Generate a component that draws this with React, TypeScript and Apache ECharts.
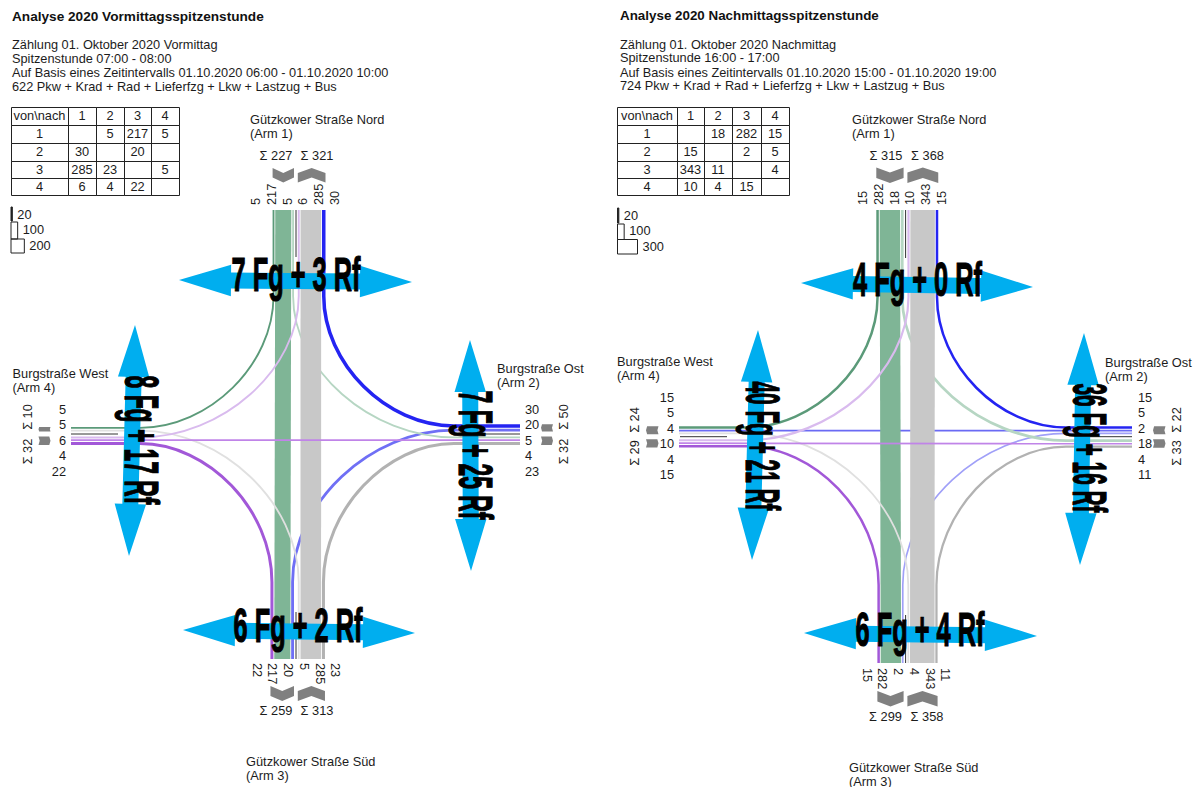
import React, { useEffect, useRef } from "react";
import * as echarts from "echarts";

const W = 1199;
const H = 787;
const FONT = '"Liberation Sans"';

const armNames = [
  ["Gützkower Straße Nord", "(Arm 1)"],
  ["Burgstraße Ost", "(Arm 2)"],
  ["Gützkower Straße Süd", "(Arm 3)"],
  ["Burgstraße West", "(Arm 4)"],
];
const tableHeader = ["von\\nach", "1", "2", "3", "4"];
const amMatrix = [
  [null, 5, 217, 5],
  [30, null, 20, null],
  [285, 23, null, 5],
  [6, 4, 22, null],
];
const pmMatrix = [
  [null, 18, 282, 15],
  [15, null, 2, 5],
  [343, 11, null, 4],
  [10, 4, 15, null],
];
const amLegend = [20, 100, 200];
const pmLegend = [20, 100, 300];
const amSums = [[227, 321], [50, 32], [259, 313], [10, 32]];
const pmSums = [[315, 368], [22, 33], [299, 358], [24, 29]];
const amStations = ["7 Fg + 3 Rf", "7 Fg + 25 Rf", "6 Fg + 2 Rf", "8 Fg + 17 Rf"];
const pmStations = ["4 Fg + 0 Rf", "36 Fg + 16 Rf", "6 Fg + 4 Rf", "40 Fg + 21 Rf"];
const amHeader = [
  "Analyse 2020 Vormittagsspitzenstunde",
  "Zählung 01. Oktober 2020 Vormittag",
  "Spitzenstunde 07:00 - 08:00",
  "Auf Basis eines Zeitintervalls 01.10.2020 06:00 - 01.10.2020 10:00",
  "622 Pkw + Krad + Rad + Lieferfzg + Lkw + Lastzug + Bus",
];
const pmHeader = [
  "Analyse 2020 Nachmittagsspitzenstunde",
  "Zählung 01. Oktober 2020 Nachmittag",
  "Spitzenstunde 16:00 - 17:00",
  "Auf Basis eines Zeitintervalls 01.10.2020 15:00 - 01.10.2020 19:00",
  "724 Pkw + Krad + Rad + Lieferfzg + Lkw + Lastzug + Bus",
];

// Lane order per arm (1-based arm pairs), first group left/top of the arm axis.
const laneOrder: number[][][][] = [
  [[[1, 4], [1, 3], [1, 2]], [[4, 1], [3, 1], [2, 1]]],
  [[[2, 1], [2, 4], [2, 3]], [[1, 2], [4, 2], [3, 2]]],
  [[[4, 3], [1, 3], [2, 3]], [[3, 4], [3, 1], [3, 2]]],
  [[[1, 4], [2, 4], [3, 4]], [[4, 1], [4, 2], [4, 3]]],
];
const drawOrder = [[2, 1], [2, 3], [2, 4], [1, 2], [1, 3], [1, 4], [3, 1], [3, 2], [3, 4], [4, 1], [4, 2], [4, 3]];

const flowColor: Record<string, string> = {
  "1-2": "#b6d6c3", "1-3": "#7fb596", "1-4": "#5b9a79",
  "2-1": "#2424f2", "2-3": "#6f6ff5", "2-4": "#6a6af4",
  "3-1": "#c8c8c8", "3-2": "#b2b2b2", "3-4": "#e0e0e0",
  "4-1": "#d9bbee", "4-2": "#c084e8", "4-3": "#a258d8",
};
const pmColor: Record<string, string> = { "2-3": "#a0a0f8" };

type Layout = any;
const layouts: Layout[] = [
  {
    matrix: amMatrix, legend: amLegend, sums: amSums, stations: amStations, header: amHeader, colors: {},
    axisX: 296, axisY: 434, top: 210, bottom: 659, west: 71, east: 520, boxT: 296, boxB: 582, boxL: 140, boxR: 454,
    headX: 12, titleY: 17, lineY: [44.5, 58, 72, 86],
    tableCols: [11, 68, 96, 124, 151, 179],
    legendX: 11, legendY: [207, 222, 239, 253], legendText: [214, 229, 245],
    chevTop: [168, 182.5], chevBottom: [686, 701], chevWest: [38.5, 50.5], chevEast: [541, 553],
    topLabels: -1, bottomLabels: 0.5, labelTopY: 205, labelBottomY: 663, westLabelX: 66, eastLabelX: 525, sideLabelY: 440,
    sumTopY: 155, sumBottomY: 710.5, sumWestX: 27, sumEastX: 563, sumSideY: [417, 451.5],
    sumTopX: [276, 317], sumBottomX: [276, 317],
    names: [[250, 119], [497, 368], [246, 761.5], [12.5, 373]],
    stationPos: [[296, 274.5], [476, 455], [298, 625], [141.5, 440]],
    arrows: [[179, 280, 412, 282], [470, 340, 471, 571], [183, 630, 415, 633], [135, 325, 129, 556]],
    marks: [[210, 257], [470, 520], [612, 659], [71, 118]],
  },
  {
    matrix: pmMatrix, legend: pmLegend, sums: pmSums, stations: pmStations, header: pmHeader, colors: pmColor,
    axisX: 905.6, axisY: 436.7, top: 210, bottom: 663, west: 679, east: 1132, boxT: 297, boxB: 585, boxL: 746, boxR: 1066,
    headX: 620, titleY: 16, lineY: [44, 57.5, 72, 85.5],
    tableCols: [617, 677, 704, 732, 761, 789],
    legendX: 617.5, legendY: [208, 224, 239.5, 254], legendText: [215, 230, 246],
    chevTop: [167.5, 183], chevBottom: [691, 706.5], chevWest: [646, 658.5], chevEast: [1153, 1165.5],
    topLabels: -3.5, bottomLabels: 1, labelTopY: 205, labelBottomY: 668, westLabelX: 674, eastLabelX: 1138, sideLabelY: 436,
    sumTopY: 155, sumBottomY: 716, sumWestX: 634, sumEastX: 1176, sumSideY: [420, 453],
    sumTopX: [886, 927.5], sumBottomX: [885.5, 927],
    names: [[852, 119], [1105, 362.5], [849, 767], [617, 361]],
    stationPos: [[917.5, 279], [1089, 448], [920, 629], [762, 446]],
    arrows: [[801, 283, 1033, 287], [1084, 333, 1080, 565], [804, 633, 1037, 636], [758, 330, 752, 560]],
    marks: [[210, 258], [1084, 1132], [615, 663], [680, 727]],
  },
];
const tableRows = [107, 125, 143, 161, 178, 195];

// Width scales: band width in the diagrams and box width in the legends.
const flowWidth = (v: number) => 1.5 + v * 0.067;
const legendWidth = (v: number) => v * 0.0667;

function buildLanes(l: Layout) {
  const lanes: Record<string, [number, number, number]>[] = [{}, {}, {}, {}];
  const extents: [number, number][][] = [];
  laneOrder.forEach((groups, arm) => {
    const vertical = arm % 2 === 0;
    const axis = vertical ? l.axisX : l.axisY;
    const start = vertical ? [2, 1.8] : [2.5, 2.5];
    const gap = vertical ? 0.85 : 0.95;
    let pos = axis - start[0];
    const first = pos;
    [...groups[0]].reverse().forEach(([a, b]) => {
      const v = l.matrix[a - 1][b - 1];
      if (v == null) return;
      const w = flowWidth(v);
      lanes[arm][`${a}-${b}`] = [pos - w / 2, w, v];
      pos -= w + gap;
    });
    const low: [number, number] = [pos + gap, first];
    pos = axis + start[1];
    const second = pos;
    groups[1].forEach(([a, b]) => {
      const v = l.matrix[a - 1][b - 1];
      if (v == null) return;
      const w = flowWidth(v);
      lanes[arm][`${a}-${b}`] = [pos + w / 2, w, v];
      pos += w + gap;
    });
    extents[arm] = [low, [second, pos - gap]];
  });
  return { lanes, extents };
}

function flowPath(api: any, l: Layout, lanes: any[], a: number, b: number) {
  const key = `${a}-${b}`;
  const K = 0.52;
  const from = a - 1;
  const to = b - 1;
  const c = (x: number, y: number) => api.coord([x, y]).map((n: number) => +n.toFixed(2)).join(" ");
  const armEnd = (arm: number, pos: number) =>
    arm === 0 ? [pos, l.top] : arm === 2 ? [pos, l.bottom] : arm === 3 ? [l.west, pos] : [l.east, pos];
  const armIn = (arm: number, pos: number) =>
    arm === 0 ? [pos, l.boxT] : arm === 2 ? [pos, l.boxB] : arm === 3 ? [l.boxL, pos] : [l.boxR, pos];
  const p1 = lanes[from][key][0];
  const p2 = lanes[to][key][0];
  const e1 = armEnd(from, p1);
  const e2 = armEnd(to, p2);
  if ((from + to) % 2 === 0) return `M${c(e1[0], e1[1])}L${c(e2[0], e2[1])}`;
  const i1 = armIn(from, p1);
  const i2 = armIn(to, p2);
  const corner = from % 2 === 0 ? [p1, p2] : [p2, p1];
  const ctrl = (pt: number[]) => [pt[0] + (corner[0] - pt[0]) * K, pt[1] + (corner[1] - pt[1]) * K];
  const c1 = ctrl(i1);
  const c2 = ctrl(i2);
  return `M${c(e1[0], e1[1])}L${c(i1[0], i1[1])}C${c(c1[0], c1[1])} ${c(c2[0], c2[1])} ${c(i2[0], i2[1])}L${c(e2[0], e2[1])}`;
}

function arrowPoints(t: number[]) {
  const [x1, y1, x2, y2] = t;
  const len = Math.hypot(x2 - x1, y2 - y1);
  const ux = (x2 - x1) / len;
  const uy = (y2 - y1) / len;
  const nx = -uy;
  const ny = ux;
  const head = 52;
  const hw = 15.7;
  const sw = 8;
  const p = (d: number, o: number) => [x1 + ux * d + nx * o, y1 + uy * d + ny * o];
  return [
    p(0, 0), p(head, hw), p(head, sw), p(len - head, sw), p(len - head, hw), p(len, 0),
    p(len - head, -hw), p(len - head, -sw), p(head, -sw), p(head, -hw),
  ];
}

function chevronPoints(alongA: number, alongB: number, crossA: number, crossB: number, dir: number, vertical: boolean) {
  const mid = (crossA + crossB) / 2;
  const d = Math.min(5, Math.abs(crossB - crossA) * (vertical ? 0.25 : 0.14));
  const base = dir > 0 ? alongA : alongB;
  const end = dir > 0 ? alongB : alongA;
  const pts = [
    [crossA, base], [mid, base + dir * d], [crossB, base],
    [crossB, end - dir * d], [mid, end], [crossA, end - dir * d],
  ];
  return vertical ? pts : pts.map(([a, b]) => [b, a]);
}

const fitCanvas = typeof document !== "undefined" ? document.createElement("canvas").getContext("2d") : null;
function naturalWidth(text: string, font: string) {
  if (!fitCanvas) return text.length * 20;
  fitCanvas.font = font;
  return fitCanvas.measureText(text).width;
}

function label(text: string, x: number, y: number, o: any = {}) {
  const align = o.align || "left";
  return {
    type: "text",
    x,
    y,
    rotation: o.rotation || 0,
    scaleX: o.scaleX || 1,
    z: o.z || 50,
    silent: true,
    style: {
      text,
      x: 0,
      y: 0,
      fill: o.fill || "#1c1c1c",
      font: o.font || `12.8px ${FONT}`,
      textAlign: align,
      align,
      textVerticalAlign: "middle",
      verticalAlign: "middle",
      ...(o.stroke ? { stroke: o.stroke, lineWidth: o.lineWidth } : {}),
    },
  };
}

function staticElements(l: Layout) {
  const out: any[] = [];
  // header
  const titleFont = `bold 12px ${FONT}`;
  const titleTarget = 252;
  out.push(label(l.header[0], l.headX, l.titleY, { font: titleFont, fill: "#111", scaleX: (titleTarget * (l.header[0].length / 36)) / naturalWidth(l.header[0], titleFont) }));
  l.header.slice(1).forEach((t: string, i: number) => {
    out.push(label(t, l.headX, l.lineY[i], { font: `12.75px ${FONT}` }));
  });
  // table
  const cols = l.tableCols;
  tableRows.slice(0, -1).forEach((y0: number, r: number) => {
    const y1 = tableRows[r + 1];
    for (let c = 0; c < 5; c++) {
      out.push({
        type: "rect", shape: { x: cols[c] + 0.5, y: y0 + 0.5, width: cols[c + 1] - cols[c], height: y1 - y0 }, silent: true, z: 10,
        style: { fill: "none", stroke: "#222", lineWidth: 1 },
      });
      let txt: any = null;
      if (r === 0) txt = tableHeader[c];
      else if (c === 0) txt = String(r);
      else if (l.matrix[r - 1][c - 1] != null) txt = String(l.matrix[r - 1][c - 1]);
      if (txt != null) out.push(label(txt, (cols[c] + cols[c + 1]) / 2, (y0 + y1) / 2 - 0.5, { align: "center" }));
    }
  });
  // legend
  l.legend.forEach((v: number, i: number) => {
    const w = legendWidth(v);
    out.push({
      type: "rect", shape: { x: l.legendX, y: l.legendY[i], width: w, height: l.legendY[i + 1] - l.legendY[i] - (i === 0 ? 1 : 0) }, silent: true, z: 10,
      style: { fill: i === 0 ? "#222" : "none", stroke: "#222", lineWidth: 1 },
    });
    out.push(label(String(v), l.legendX + w + 5, l.legendText[i]));
  });
  // arm names
  l.names.forEach((p: number[], i: number) => {
    out.push(label(armNames[i][0], p[0], p[1]));
    out.push(label(armNames[i][1], p[0], p[1] + 14));
  });
  // lane labels
  const laneLabels = (arm: number) => {
    const res: number[] = [];
    laneOrder[arm].forEach((g) => g.forEach(([a, b]) => {
      const v = l.matrix[a - 1][b - 1];
      if (v != null) res.push(v);
    }));
    return res;
  };
  const STEP_V = 15.75;
  const STEP_H = 15.5;
  laneLabels(0).forEach((v, i, arr) => {
    out.push(label(String(v), l.axisX + l.topLabels + (i - (arr.length - 1) / 2) * STEP_V, l.labelTopY, { rotation: Math.PI / 2, align: "left" }));
  });
  laneLabels(2).forEach((v, i, arr) => {
    out.push(label(String(v), l.axisX + l.bottomLabels + (i - (arr.length - 1) / 2) * STEP_V, l.labelBottomY, { rotation: -Math.PI / 2, align: "left" }));
  });
  laneLabels(1).forEach((v, i, arr) => {
    out.push(label(String(v), l.eastLabelX, l.sideLabelY + (i - (arr.length - 1) / 2) * STEP_H));
  });
  laneLabels(3).forEach((v, i, arr) => {
    out.push(label(String(v), l.westLabelX, l.sideLabelY + (i - (arr.length - 1) / 2) * STEP_H, { align: "right" }));
  });
  // sums
  l.sums[0].forEach((v: number, i: number) => out.push(label(`Σ ${v}`, l.sumTopX[i], l.sumTopY, { align: "center" })));
  l.sums[2].forEach((v: number, i: number) => out.push(label(`Σ ${v}`, l.sumBottomX[i], l.sumBottomY, { align: "center" })));
  l.sums[1].forEach((v: number, i: number) => out.push(label(`Σ ${v}`, l.sumEastX, l.sumSideY[i], { align: "center", rotation: Math.PI / 2 })));
  l.sums[3].forEach((v: number, i: number) => out.push(label(`Σ ${v}`, l.sumWestX, l.sumSideY[i], { align: "center", rotation: Math.PI / 2 })));
  // station texts
  l.stations.forEach((t: string, i: number) => {
    const font = `bold 48px ${FONT}`;
    out.push(label(t, l.stationPos[i][0], l.stationPos[i][1], {
      font, fill: "#000", align: "center", z: 100, stroke: "#000", lineWidth: 1.2,
      rotation: i % 2 === 1 ? -Math.PI / 2 : 0,
      scaleX: 129 / naturalWidth(t, font),
    }));
  });
  return out;
}

function buildOption() {
  const series: any[] = [];
  const graphics: any[] = [];
  layouts.forEach((l) => {
    const { lanes, extents } = buildLanes(l);
    const flows = drawOrder.filter(([a, b]) => l.matrix[a - 1][b - 1] != null);
    const base = { type: "custom", coordinateSystem: "cartesian2d", silent: true, clip: false, animation: false };
    series.push({
      ...base, z: 2,
      data: flows.map((_, i) => [i, 0]),
      renderItem: (p: any, api: any) => {
        const [a, b] = flows[p.dataIndex];
        const key = `${a}-${b}`;
        const w = lanes[a - 1][key][1];
        return {
          type: "path",
          shape: { pathData: flowPath(api, l, lanes, a, b) },
          style: { fill: "none", stroke: l.colors[key] || flowColor[key], lineWidth: w },
        };
      },
    });
    // thin separators on the arm axes
    const mk = l.marks;
    const markLines = [
      [l.axisX, mk[0][0], l.axisX, mk[0][1]],
      [mk[1][0], l.axisY, mk[1][1], l.axisY],
      [l.axisX, mk[2][0], l.axisX, mk[2][1]],
      [mk[3][0], l.axisY, mk[3][1], l.axisY],
    ];
    series.push({
      ...base, z: 3,
      data: markLines.map((_, i) => [i, 0]),
      renderItem: (p: any, api: any) => {
        const m = markLines[p.dataIndex];
        const s = api.coord([m[0], m[1]]);
        const e = api.coord([m[2], m[3]]);
        return { type: "line", shape: { x1: s[0], y1: s[1], x2: e[0], y2: e[1] }, style: { stroke: "#333", lineWidth: 1 } };
      },
    });
    // direction chevrons spanning each lane group
    const chevrons = [
      chevronPoints(l.chevTop[0], l.chevTop[1], extents[0][0][0], extents[0][0][1], 1, true),
      chevronPoints(l.chevTop[0], l.chevTop[1], extents[0][1][0], extents[0][1][1], -1, true),
      chevronPoints(l.chevBottom[0], l.chevBottom[1], extents[2][0][0], extents[2][0][1], 1, true),
      chevronPoints(l.chevBottom[0], l.chevBottom[1], extents[2][1][0], extents[2][1][1], -1, true),
      chevronPoints(l.chevWest[0], l.chevWest[1], extents[3][0][0], extents[3][0][1], -1, false),
      chevronPoints(l.chevWest[0], l.chevWest[1], extents[3][1][0], extents[3][1][1], 1, false),
      chevronPoints(l.chevEast[0], l.chevEast[1], extents[1][0][0], extents[1][0][1], -1, false),
      chevronPoints(l.chevEast[0], l.chevEast[1], extents[1][1][0], extents[1][1][1], 1, false),
    ];
    series.push({
      ...base, z: 3,
      data: chevrons.map((_, i) => [i, 0]),
      renderItem: (p: any, api: any) => ({
        type: "polygon",
        shape: { points: chevrons[p.dataIndex].map((q: number[]) => api.coord(q)) },
        style: { fill: "#808080" },
      }),
    });
    // station arrows
    series.push({
      ...base, z: 4,
      data: l.arrows.map((_: any, i: number) => [i, 0]),
      renderItem: (p: any, api: any) => ({
        type: "polygon",
        shape: { points: arrowPoints(l.arrows[p.dataIndex]).map((q: number[]) => api.coord(q)) },
        style: { fill: "#00aeef" },
      }),
    });
    graphics.push(...staticElements(l));
  });
  return {
    animation: false,
    backgroundColor: "#ffffff",
    grid: { left: 0, right: 0, top: 0, bottom: 0, containLabel: false },
    xAxis: { type: "value", min: 0, max: W, show: false },
    yAxis: { type: "value", min: 0, max: H, inverse: true, show: false },
    series,
    graphic: { elements: graphics },
  };
}

export default function App() {
  const ref = useRef<HTMLDivElement>(null);
  useEffect(() => {
    document.body.style.margin = "0";
    const chart = echarts.init(ref.current as HTMLDivElement, undefined, { renderer: "svg" });
    chart.setOption(buildOption() as any);
    return () => chart.dispose();
  }, []);
  return <div ref={ref} style={{ width: W, height: H }} />;
}
